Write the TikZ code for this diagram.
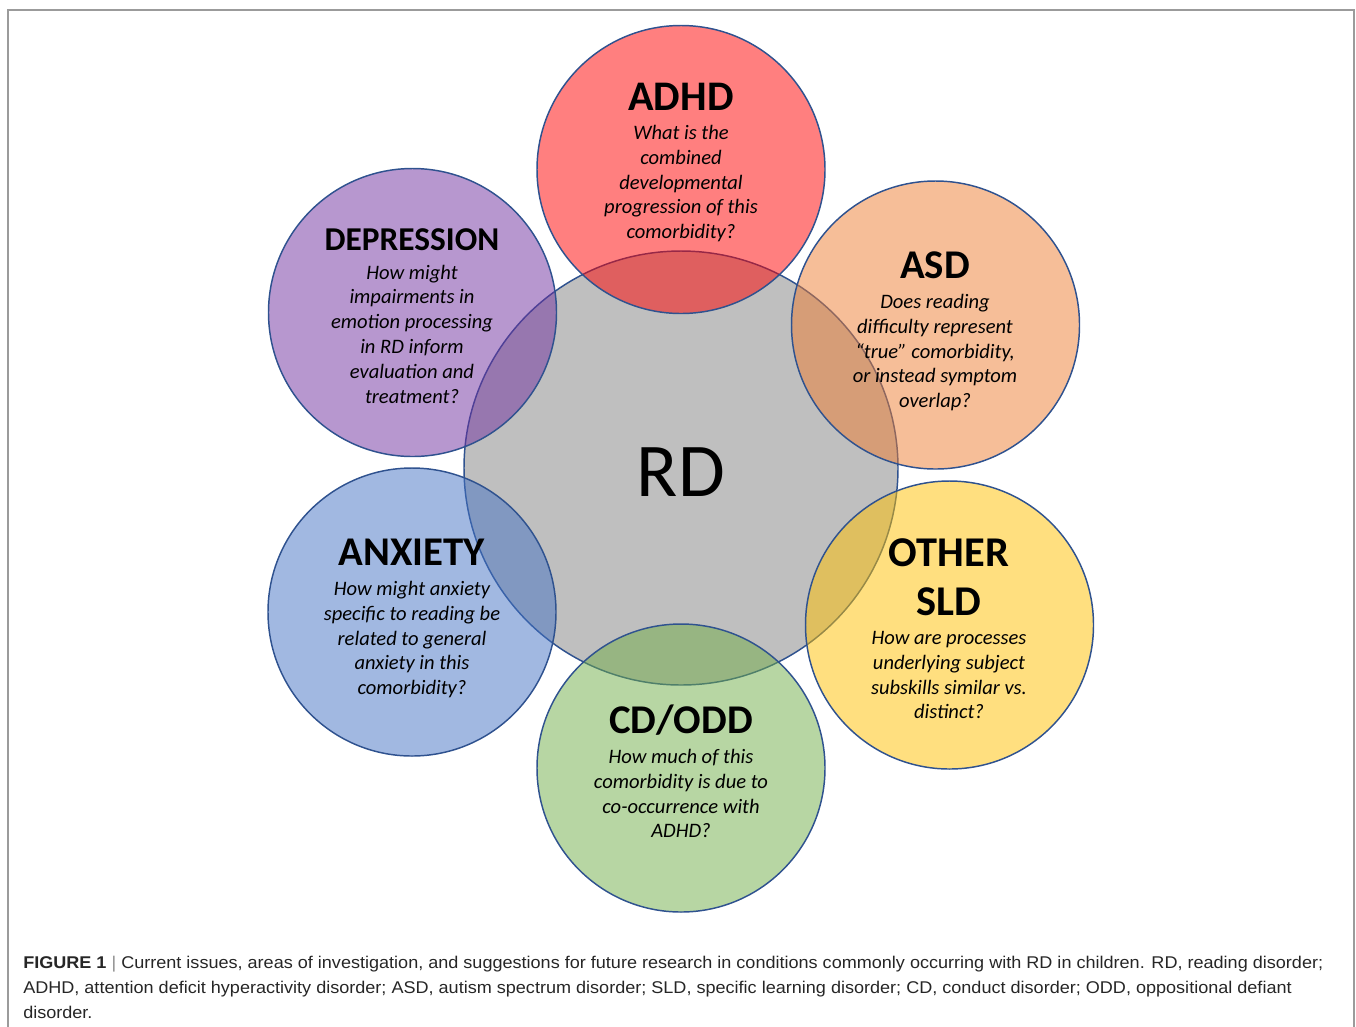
\documentclass[tikz,border=0pt]{standalone}
\usepackage{fontspec}
\usepackage{graphicx}
\setmainfont{Carlito}
\newfontfamily\capfont{Liberation Sans}
\definecolor{rdgray}{HTML}{BFBFBF}
\definecolor{outl}{HTML}{2F528F}
\definecolor{cred}{HTML}{FF0000}
\definecolor{corange}{HTML}{ED7D31}
\definecolor{cyellow}{HTML}{FFC000}
\definecolor{cgreen}{HTML}{70AD47}
\definecolor{cblue}{HTML}{4472C4}
\definecolor{cpurple}{HTML}{7030A0}
\definecolor{framegray}{RGB}{155,155,155}
\definecolor{captext}{HTML}{262626}
\newlength\capw
\begin{document}
\settowidth{\capw}{\capfont\fontsize{12.75}{15}\selectfont\textbf{FIGURE 1} | Current issues, areas of investigation, and suggestions for future research in conditions commonly occurring with RD in children. RD, reading disorder;}
\pgfmathsetmacro\capsc{975/\capw}
\begin{tikzpicture}[x=0.75pt,y=-0.75pt,
  circ/.style={circle, draw=outl, line width=1.1pt, inner sep=0pt, minimum size=216pt},
  colcirc/.style={circ, fill=#1, fill opacity=0.5, draw opacity=1},
  head/.style={font=\fontsize{#1}{36}\selectfont\bfseries, anchor=base, inner sep=0pt},
  head/.default=30.6,
  body/.style={font=\fontsize{15.4}{18.6}\selectfont\itshape, align=center, anchor=north, inner sep=0pt},
  capline/.style={font=\capfont\fontsize{12.75}{15}\selectfont, text=captext, anchor=base west, inner sep=0pt}
]
\useasboundingbox (0,0) rectangle (1356,1026);
% frame
\coordinate (fbl) at (8,1027);
\coordinate (ftl) at (8,10);
\coordinate (ftr) at (1354,10);
\coordinate (fbr) at (1354,1027);
\draw[framegray, line width=1.3pt] (fbl) -- (ftl) -- (ftr) -- (fbr);

% central circle
\node[circ, fill=rdgray, minimum size=325.5pt] (rd) at (681,468) {};
\node[font=\fontsize{57}{60}\selectfont, anchor=base, inner sep=0pt] (rdl) at (681,496) {RD};

% satellite circles
\node[colcirc=cred] (adhd) at (681,169.5) {};
\node[colcirc=corange] (asd) at (935.5,325) {};
\node[colcirc=cyellow] (sld) at (949.5,625) {};
\node[colcirc=cgreen] (cdodd) at (681,768) {};
\node[colcirc=cblue] (anx) at (412,612) {};
\node[colcirc=cpurple] (dep) at (412.5,312.5) {};

% ADHD
\node[head=31.6] (adhdh) at (681,110) {ADHD};
\node[body] (adhdb) at (681,125) {What is the\\combined\\developmental\\progression of this\\comorbidity?};
% ASD
\node[head] (asdh) at (935,278) {ASD};
\node[body] (asdb) at (935,294) {Does reading\\difficulty represent\\“true” comorbidity,\\or instead symptom\\overlap?};
% DEPRESSION
\node[head=25] (deph) at (412,250) {DEPRESSION};
\node[body] (depb) at (412,264.5) {How might\\impairments in\\emotion processing\\in RD inform\\evaluation and\\treatment?};
% ANXIETY
\node[head] (anxh) at (412,565) {ANXIETY};
\node[body] (anxb) at (412,581) {How might anxiety\\specific to reading be\\related to general\\anxiety in this\\comorbidity?};
% OTHER SLD
\node[head=31.8] (sldh1) at (949,566) {OTHER};
\node[head=31.8] (sldh2) at (949,615) {SLD};
\node[body] (sldb) at (949,631) {How are processes\\underlying subject\\subskills similar vs.\\distinct?};
% CD/ODD
\node[head] (cdh) at (681,733) {CD/ODD};
\node[body] (cdb) at (681,749) {How much of this\\comorbidity is due to\\co-occurrence with\\ADHD?};

% caption
\node[capline] (cap1) at (23,968) {\scalebox{\capsc}[1]{\textbf{FIGURE 1} \textcolor{black!45}{|} Current issues, areas of investigation, and suggestions for future research in conditions commonly occurring with RD in children. RD, reading disorder;}};
\node[capline] (cap2) at (23,993) {\scalebox{\capsc}[1]{ADHD, attention deficit hyperactivity disorder; ASD, autism spectrum disorder; SLD, specific learning disorder; CD, conduct disorder; ODD, oppositional defiant}};
\node[capline] (cap3) at (23,1018) {\scalebox{\capsc}[1]{disorder.}};
\end{tikzpicture}
\end{document}
